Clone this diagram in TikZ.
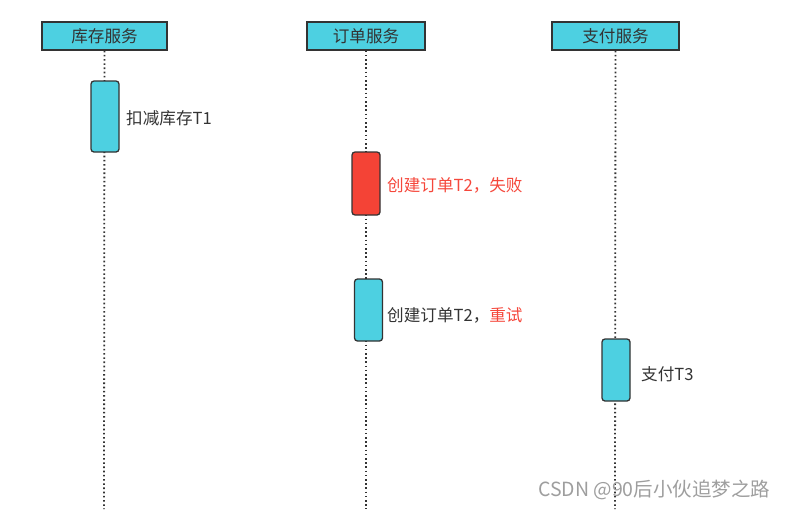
\documentclass[tikz,border=0pt]{standalone}
\usepackage{fontspec}
\setmainfont{Noto Sans CJK SC}
\begin{document}
\begin{tikzpicture}[x=1pt,y=-1pt,
  every node/.style={font=\fontsize{16.6}{19}\selectfont, text=txt},
  header/.style={draw=edge, line width=1.3pt, fill=cyanf, minimum width=#1, minimum height=28pt, inner sep=0pt},
  act/.style={draw=edge, line width=1.3pt, fill=cyanf, rounded corners=3pt, minimum width=28pt, inner sep=0pt},
  life/.style={line width=1.8pt, draw=edge, dash pattern=on 1.6pt off 2.6pt},
  lbl/.style={anchor=west, inner sep=0pt}
]
\definecolor{cyanf}{HTML}{4DD0E1}
\definecolor{redf}{HTML}{F44336}
\definecolor{edge}{HTML}{333333}
\definecolor{txt}{HTML}{333333}
\definecolor{redt}{HTML}{F5473B}
\definecolor{wm}{HTML}{9E9E9E}
\useasboundingbox (0,0) rectangle (789,509);
% lifelines
\coordinate (e1) at (104,509);
\coordinate (e2) at (366,509);
\coordinate (e3) at (615,509);
\node[header=125pt] (h1) at (104.5,36) {库存服务};
\node[header=118pt] (h2) at (366,36) {订单服务};
\node[header=127pt] (h3) at (615.5,36) {支付服务};
\draw[life] (h1.south) -- (e1);
\draw[life] (h2.south) -- (e2);
\draw[life] (h3.south) -- (e3);
% activations
\node[act, minimum height=71pt] (a1) at (105,116.5) {};
\node[act, minimum height=63pt, fill=redf] (a2) at (366,183.5) {};
\node[act, minimum height=62pt] (a3) at (368.5,310) {};
\node[act, minimum height=62pt] (a4) at (616,370) {};
\node[lbl] (l1) at (126,118) {扣减库存T1};
\node[lbl, text=redt] (l2) at (387,185) {创建订单T2，失败};
\node[lbl] (l3) at (387,315) {创建订单T2，\textcolor{redt}{重试}};
\node[lbl] (l4) at (641,374) {支付T3};
\node[lbl, text=wm, font=\fontsize{19.5}{22}\selectfont] (wm) at (538,490) {CSDN @90后小伙追梦之路};
\end{tikzpicture}
\end{document}
